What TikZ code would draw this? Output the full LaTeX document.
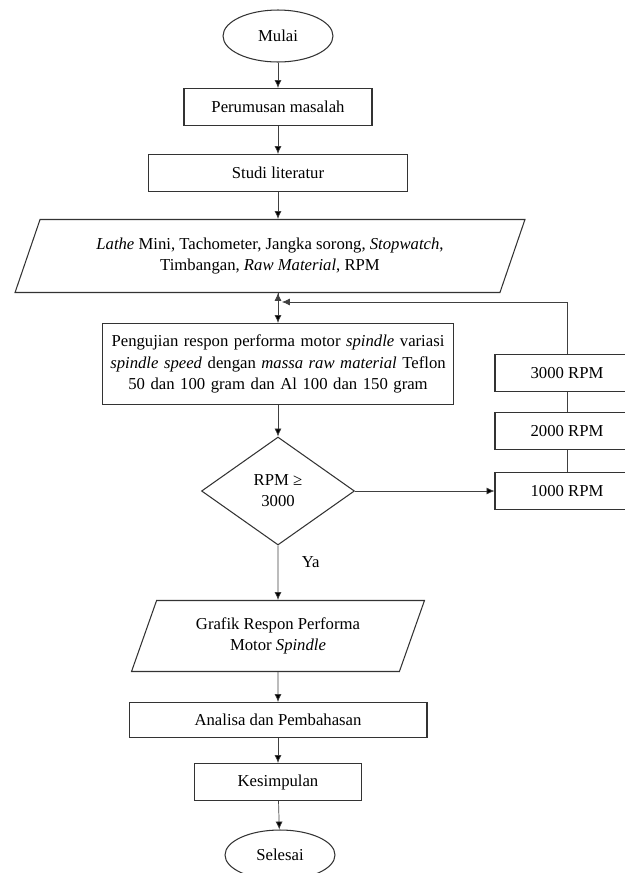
\documentclass[tikz,border=0pt]{standalone}
\usepackage{fontspec}
\setmainfont{Liberation Serif}
\usetikzlibrary{calc, arrows.meta, positioning, shapes}

\begin{document}
\begin{tikzpicture}[x = 0.02cm, y = -0.02cm, >={Latex[length = 4.5pt, width = 4pt]}, font = \fontsize{9.5}{12}\selectfont]
			\tikzstyle{box} = [draw=black!80, semithick, rectangle, minimum height = 0.74cm, inner sep = 2pt]
			\tikzstyle{term} = [draw=black!80, semithick, ellipse, minimum width = 2.2cm, minimum height = 1.04cm]
			\tikzstyle{io} = [draw=black!80, semithick, trapezium, trapezium left angle = 60, trapezium right angle = 120, trapezium stretches body, inner sep = 2pt, align = center]
			\tikzstyle{decide} = [draw=black!80, semithick, diamond, inner sep = 0pt, minimum width = 3.06cm, minimum height = 2.16cm, align = center]
			\tikzstyle{line} = [draw=black!75, thin]

			\useasboundingbox (0, 0) rectangle (625, 873);

			\node[term] 	at (278, 36) 	(mulai) 	{Mulai};
			\node[box, minimum width = 3.76cm] 	at (278, 107) 	(perumusan) 	{Perumusan masalah};
			\node[box, minimum width = 5.18cm] 	at (278, 173) 	(studi) 	{Studi literatur};
			\node[io, minimum width = 10.2cm, minimum height = 1.46cm] 	at (270, 256) 	(alat)
				{\textit{Lathe} Mini, Tachometer, Jangka sorong, \textit{Stopwatch},\\ Timbangan, \textit{Raw Material}, RPM};
			\node[box, minimum width = 7.04cm, minimum height = 1.62cm, text width = 6.96cm, inner sep = 1pt, align = center] 	at (278, 364) 	(pengujian)
				{Pengujian respon performa motor \textit{spindle} variasi\\ \textit{spindle speed} dengan \textit{massa raw material} Teflon\\ 50 dan 100 gram dan Al 100 dan 150 gram};
			\node[decide] 	at (278, 491) 	(cek) 	{RPM ≥\\3000};
			\node[box, minimum width = 2.88cm] 	at (567, 491) 	(rpm1) 	{1000 RPM};
			\node[box, minimum width = 2.88cm] 	at (567, 431) 	(rpm2) 	{2000 RPM};
			\node[box, minimum width = 2.88cm] 	at (567, 373) 	(rpm3) 	{3000 RPM};
			\node[io, minimum width = 5.86cm, minimum height = 1.42cm] 	at (278, 636) 	(grafik)
				{Grafik Respon Performa\\ Motor \textit{Spindle}};
			\node[box, minimum width = 5.96cm, minimum height = 0.7cm] 	at (278, 720) 	(analisa) 	{Analisa dan Pembahasan};
			\node[box, minimum width = 3.34cm] 	at (278, 782) 	(kesimpulan) 	{Kesimpulan};
			\node[term, minimum height = 1cm] 	at (280, 855) 	(selesai) 	{Selesai};
			\coordinate 	(fb) 	at (282, 302);

			\path[->, line]
			(mulai) 	edge 	(perumusan)
			(perumusan) 	edge 	(studi)
			(studi) 	edge 	(studi.south |- alat.north)
			(pengujian.north |- alat.south) 	edge 	(pengujian)
			(pengujian) 	edge 	(cek)
			(cek) 	edge 	node[pos = 0.3, right = 10pt] 	(ya) 	{Ya} 	(grafik)
			(cek) 	edge 	(rpm1)
			(rpm1) 	edge[-] 	(rpm2)
			(rpm2) 	edge[-] 	(rpm3)
			(grafik) 	edge 	(analisa)
			(analisa) 	edge 	(kesimpulan)
			(kesimpulan) 	edge 	(selesai);
			\draw[->, line] (rpm3.north) |- (fb);
		\end{tikzpicture}
\end{document}
